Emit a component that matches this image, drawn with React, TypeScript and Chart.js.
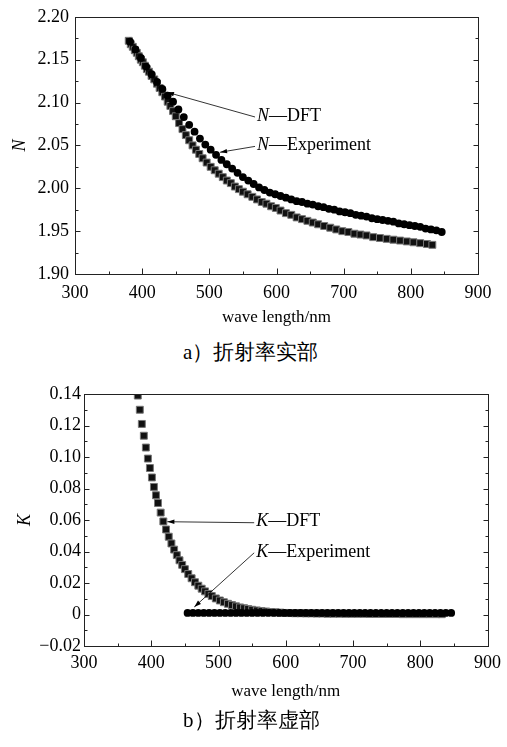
import React, { useEffect, useRef } from 'react';
import { Chart, registerables } from 'chart.js';
Chart.register(...registerables);

// ---- data ----
const dftWavelength = [
  380, 383, 386, 389, 392, 395, 398, 401, 404, 407,
  410, 414, 418, 422, 426, 430, 434, 438, 442, 446,
  450, 455, 460, 465, 470, 475, 480, 485, 490, 496,
  502, 508, 514, 520, 526, 532, 538, 544, 550, 557,
  564, 571, 578, 585, 592, 599, 606, 614, 622, 630,
  638, 646, 654, 662, 671, 680, 689, 698, 707, 716,
  725, 734, 744, 754, 764, 774, 784, 794, 804, 814,
  824, 832,
];
const dftN = [
  2.172, 2.168, 2.165, 2.161, 2.158, 2.154, 2.150, 2.147, 2.143, 2.139,
  2.136, 2.131, 2.127, 2.122, 2.117, 2.112, 2.107, 2.101, 2.096, 2.090,
  2.084, 2.076, 2.069, 2.062, 2.056, 2.050, 2.045, 2.040, 2.035, 2.030,
  2.025, 2.021, 2.017, 2.013, 2.009, 2.006, 2.002, 1.999, 1.996, 1.993,
  1.990, 1.987, 1.984, 1.982, 1.979, 1.977, 1.974, 1.971, 1.969, 1.966,
  1.964, 1.962, 1.960, 1.958, 1.956, 1.954, 1.952, 1.950, 1.949, 1.947,
  1.946, 1.945, 1.943, 1.942, 1.941, 1.940, 1.939, 1.938, 1.937, 1.936,
  1.935, 1.934,
];
const dftK = [
  0.139, 0.130, 0.121, 0.1135, 0.106, 0.099, 0.093, 0.087, 0.081, 0.0757,
  0.0708, 0.0647, 0.0591, 0.054, 0.0494, 0.0451, 0.0412, 0.0377, 0.0344, 0.0315,
  0.0288, 0.0257, 0.023, 0.0205, 0.0183, 0.0164, 0.0147, 0.0131, 0.0117, 0.0102,
  0.0089, 0.0078, 0.0068, 0.006, 0.0052, 0.0045, 0.004, 0.0035, 0.003, 0.0026,
  0.0022, 0.0019, 0.0016, 0.0014, 0.0012, 0.001, 0.0009, 0.0008, 0.0008, 0.0007,
  0.0007, 0.0006, 0.0006, 0.0005, 0.0005, 0.0005, 0.0004, 0.0004, 0.0004, 0.0004,
  0.0003, 0.0003, 0.0003, 0.0003, 0.0003, 0.0002, 0.0002, 0.0002, 0.0002, 0.0002,
  0.0002, 0.0002,
];
const expWavelength = [
  382, 390, 398, 406, 414, 422, 430, 438, 446, 454,
  462, 470, 478, 486, 494, 502, 510, 518, 526, 534,
  542, 550, 558, 566, 574, 582, 590, 598, 606, 614,
  622, 630, 638, 646, 654, 662, 670, 678, 686, 694,
  702, 710, 718, 726, 734, 742, 750, 758, 766, 774,
  782, 790, 798, 806, 814, 822, 830, 838, 846,
];
const expN = [
  2.171, 2.162, 2.152, 2.142, 2.133, 2.124, 2.116, 2.108, 2.101, 2.092,
  2.083, 2.074, 2.066, 2.058, 2.051, 2.045, 2.039, 2.033, 2.028, 2.023,
  2.018, 2.013, 2.009, 2.005, 2.001, 1.998, 1.995, 1.993, 1.991, 1.989,
  1.987, 1.985, 1.984, 1.982, 1.981, 1.979, 1.978, 1.976, 1.975, 1.973,
  1.972, 1.971, 1.969, 1.968, 1.967, 1.965, 1.964, 1.963, 1.962, 1.961,
  1.959, 1.958, 1.957, 1.956, 1.955, 1.953, 1.952, 1.951, 1.949,
];
const expKWavelength = [
  454, 462, 470, 478, 486, 494, 502, 510, 518, 526,
  534, 542, 550, 558, 566, 574, 582, 590, 598, 606,
  614, 622, 630, 638, 646, 654, 662, 670, 678, 686,
  694, 702, 710, 718, 726, 734, 742, 750, 758, 766,
  774, 782, 790, 798, 806, 814, 822, 830, 838, 846,
];
const expK = [
  0.001, 0.001, 0.001, 0.001, 0.001, 0.001, 0.001, 0.001, 0.001, 0.001,
  0.001, 0.001, 0.001, 0.001, 0.001, 0.001, 0.001, 0.001, 0.001, 0.001,
  0.001, 0.001, 0.001, 0.001, 0.001, 0.001, 0.001, 0.001, 0.001, 0.001,
  0.001, 0.001, 0.001, 0.001, 0.001, 0.001, 0.001, 0.001, 0.001, 0.001,
  0.001, 0.001, 0.001, 0.001, 0.001, 0.001, 0.001, 0.001, 0.001, 0.001,
];

const xTicks = [300, 400, 500, 600, 700, 800, 900];
const nTicks = [1.9, 1.95, 2.0, 2.05, 2.1, 2.15, 2.2];
const kTicks = [-0.02, 0, 0.02, 0.04, 0.06, 0.08, 0.1, 0.12, 0.14];

const xTitle = 'wave length/nm';
const captionA = 'a）折射率实部';
const captionB = 'b）折射率虚部';

// annotation anchors in data units
const nNotes = [
  { sym: 'N', label: '—DFT', textX: 571, textY: 2.0843, tipX: 437, tipY: 2.112 },
  { sym: 'N', label: '—Experiment', textX: 571, textY: 2.05, tipX: 516, tipY: 2.042 },
];
const kNotes = [
  { sym: 'K', label: '—DFT', textX: 556, textY: 0.0589, tipX: 424, tipY: 0.0589 },
  { sym: 'K', label: '—Experiment', textX: 556, textY: 0.0398, tipX: 464, tipY: 0.0048 },
];

const SERIF = '"Liberation Serif", "DejaVu Serif", serif';
const FS = 18;

function makePlugins(yTicks: number[], notes: any[]) {
  return [
    {
      id: 'frameTicks',
      afterDatasetsDraw(chart: any) {
        const { ctx, chartArea: a, scales } = chart;
        const xs = scales.x, ys = scales.y;
        ctx.save();
        ctx.strokeStyle = '#222';
        ctx.lineWidth = 1;
        ctx.strokeRect(Math.round(a.left) + 0.5, Math.round(a.top) + 0.5,
          Math.round(a.right - a.left), Math.round(a.bottom - a.top));
        ctx.beginPath();
        const b = Math.round(a.bottom) + 0.5;
        xTicks.forEach((v, i) => {
          const x = Math.round(xs.getPixelForValue(v)) + 0.5;
          ctx.moveTo(x, b); ctx.lineTo(x, b - 6);
          if (i < xTicks.length - 1) {
            const xm = Math.round(xs.getPixelForValue((v + xTicks[i + 1]) / 2)) + 0.5;
            ctx.moveTo(xm, b); ctx.lineTo(xm, b - 3);
          }
        });
        const l = Math.round(a.left) + 0.5, r = Math.round(a.right) + 0.5;
        yTicks.forEach((v, i) => {
          const y = Math.round(ys.getPixelForValue(v)) + 0.5;
          ctx.moveTo(l, y); ctx.lineTo(l + 5, y);
          ctx.moveTo(r, y); ctx.lineTo(r - 5, y);
          if (i < yTicks.length - 1) {
            const ym = Math.round(ys.getPixelForValue((v + yTicks[i + 1]) / 2)) + 0.5;
            ctx.moveTo(l, ym); ctx.lineTo(l + 3, ym);
            ctx.moveTo(r, ym); ctx.lineTo(r - 3, ym);
          }
        });
        ctx.stroke();

        // annotations
        notes.forEach((n) => {
          const tx = xs.getPixelForValue(n.textX);
          const ty = ys.getPixelForValue(n.textY);
          const px = xs.getPixelForValue(n.tipX);
          const py = ys.getPixelForValue(n.tipY);
          const sx = tx - 2, sy = ty + 1;
          ctx.strokeStyle = '#000';
          ctx.lineWidth = 0.8;
          ctx.beginPath();
          ctx.moveTo(sx, sy); ctx.lineTo(px, py);
          ctx.stroke();
          const ang = Math.atan2(py - sy, px - sx);
          const L = 7, W = 2.2;
          ctx.fillStyle = '#000';
          ctx.beginPath();
          ctx.moveTo(px, py);
          ctx.lineTo(px - L * Math.cos(ang) + W * Math.sin(ang), py - L * Math.sin(ang) - W * Math.cos(ang));
          ctx.lineTo(px - L * Math.cos(ang) - W * Math.sin(ang), py - L * Math.sin(ang) + W * Math.cos(ang));
          ctx.closePath();
          ctx.fill();
          ctx.textBaseline = 'middle';
          ctx.textAlign = 'left';
          ctx.font = `italic ${FS}px ${SERIF}`;
          ctx.fillText(n.sym, tx, ty);
          const w = ctx.measureText(n.sym).width;
          ctx.font = `${FS}px ${SERIF}`;
          ctx.fillText(n.label, tx + w, ty);
        });
        ctx.restore();
      },
    },
  ];
}

function buildConfig(opts: any) {
  const { dft, exp, yMin, yMax, yTicks, yTitle, fmt, pad, xH, yW, xPad, yPad, yTitlePad, xTitlePad, notes } = opts;
  return {
    type: 'scatter',
    data: {
      datasets: [
        {
          label: 'Experiment',
          data: exp,
          pointStyle: 'circle',
          pointRadius: 3.9,
          backgroundColor: '#000',
          borderColor: '#000',
          borderWidth: 0,
        },
        {
          label: 'DFT',
          data: dft,
          pointStyle: 'rect',
          pointRadius: 4.9,
          backgroundColor: '#111',
          borderColor: '#777',
          borderWidth: 1,
        },
      ],
    },
    options: {
      responsive: false,
      animation: false,
      events: [],
      layout: { padding: pad },
      plugins: { legend: { display: false }, tooltip: { enabled: false } },
      scales: {
        x: {
          type: 'linear',
          min: 300,
          max: 900,
          grid: { display: false, drawTicks: false },
          border: { display: false },
          ticks: { padding: xPad, color: '#000', font: { family: SERIF, size: FS }, callback: (v: any) => String(v) },
          afterBuildTicks: (s: any) => { s.ticks = xTicks.map((v) => ({ value: v })); },
          afterFit: (s: any) => { s.height = xH; },
          title: { display: true, text: xTitle, color: '#000', font: { family: SERIF, size: 17 }, padding: { top: 0, bottom: xTitlePad } },
        },
        y: {
          type: 'linear',
          min: yMin,
          max: yMax,
          grid: { display: false, drawTicks: false },
          border: { display: false },
          ticks: { padding: yPad, color: '#000', font: { family: SERIF, size: FS }, callback: fmt },
          afterBuildTicks: (s: any) => { s.ticks = yTicks.map((v: number) => ({ value: v })); },
          afterFit: (s: any) => { s.width = yW; },
          title: { display: true, text: yTitle, color: '#000', font: { family: SERIF, size: FS, style: 'italic' }, padding: { top: yTitlePad, bottom: 0 } },
        },
      },
    },
    plugins: makePlugins(yTicks, notes),
  } as any;
}

export default function App() {
  const topRef = useRef<HTMLCanvasElement>(null);
  const botRef = useRef<HTMLCanvasElement>(null);

  useEffect(() => {
    const dftNPts = dftWavelength.map((w, i) => ({ x: w, y: dftN[i] }));
    const expNPts = expWavelength.map((w, i) => ({ x: w, y: expN[i] }));
    const dftKPts = dftWavelength.map((w, i) => ({ x: w, y: dftK[i] }));
    const expKPts = expKWavelength.map((w, i) => ({ x: w, y: expK[i] }));

    const c1 = new Chart(topRef.current as HTMLCanvasElement, buildConfig({
      dft: dftNPts, exp: expNPts, yMin: 1.9, yMax: 2.2, yTicks: nTicks, yTitle: 'N',
      fmt: (v: any) => Number(v).toFixed(2),
      pad: { left: 0, top: 12, right: 29, bottom: 0 }, xH: 56, yW: 75, xPad: 8, yPad: 6,
      yTitlePad: 9, xTitlePad: 2, notes: nNotes,
    }));
    const c2 = new Chart(botRef.current as HTMLCanvasElement, buildConfig({
      dft: dftKPts, exp: expKPts, yMin: -0.02, yMax: 0.14, yTicks: kTicks, yTitle: 'K',
      fmt: (v: any) => {
        const n = Number(v);
        if (Math.abs(n) < 1e-9) return '0';
        return (n < 0 ? '\u22120.' : '0.') + Math.round(Math.abs(n) * 100).toString().padStart(2, '0');
      },
      pad: { left: 0, top: 24, right: 18, bottom: 0 }, xH: 64, yW: 84, xPad: 6, yPad: 3,
      yTitlePad: 14, xTitlePad: 8, notes: kNotes,
    }));
    return () => { c1.destroy(); c2.destroy(); };
  }, []);

  const capStyle: React.CSSProperties = {
    position: 'absolute', left: 183, fontFamily: SERIF, fontSize: 21, lineHeight: '28px',
    color: '#000', whiteSpace: 'nowrap',
  };

  return (
    <div style={{ position: 'fixed', left: 0, top: 0, width: 507, height: 747, background: '#fff', overflow: 'hidden' }}>
      <canvas ref={topRef} width={507} height={330} style={{ position: 'absolute', left: 0, top: 0, display: 'block' }} />
      <div style={{ ...capStyle, top: 338 }}>{captionA}</div>
      <canvas ref={botRef} width={507} height={340} style={{ position: 'absolute', left: 0, top: 370, display: 'block' }} />
      <div style={{ ...capStyle, top: 706 }}>{captionB}</div>
    </div>
  );
}
